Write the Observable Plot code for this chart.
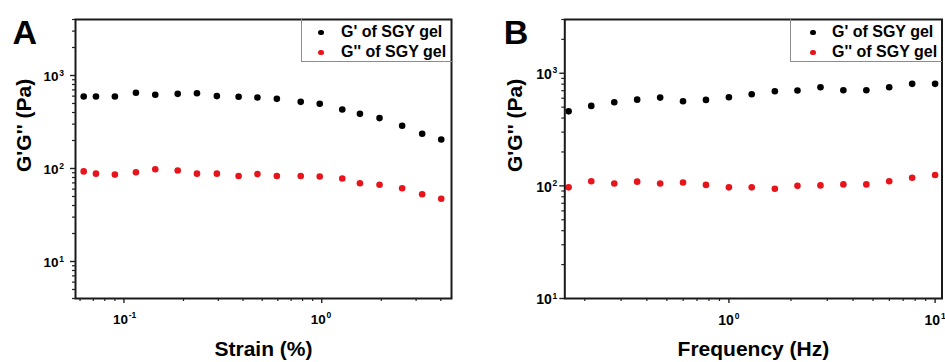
<!DOCTYPE html>
<html>
<head>
<meta charset="utf-8">
<script src="https://cdn.jsdelivr.net/npm/d3@7"></script>
<script src="https://cdn.jsdelivr.net/npm/@observablehq/plot@0.6"></script>
<style>
  body { margin: 0; background: #fff; }
  #wrap { position: relative; width: 945px; height: 362px; overflow: hidden; background: #fff;
          font-family: "Liberation Sans", Arial, sans-serif; }
  .panel { position: absolute; top: 0; }
  .legend { position: absolute; box-sizing: border-box; border-left: 1px solid #8c8c8c; border-bottom: 1px solid #8c8c8c; }
  .ldot { position: absolute; border-radius: 50%; }
  .ltext { position: absolute; font-weight: bold; font-size: 16px; line-height: 16px; white-space: nowrap; color: #000; }
</style>
</head>
<body>
<div id="wrap"></div>
<script>
// ---------- Data ----------
// Panel A: strain sweep
const strain = [0.0626, 0.0722, 0.090, 0.115, 0.144, 0.187, 0.234, 0.295, 0.380, 0.473, 0.593, 0.783, 0.977, 1.27, 1.56, 1.96, 2.55, 3.22, 4.02];
const gPrimeStrain = [594, 594, 594, 652, 620, 635, 645, 600, 590, 580, 561, 521, 496, 431, 387, 348, 288, 236, 205];
const gDoublePrimeStrain = [93, 88, 86, 91, 98, 95, 88, 88, 83, 87, 83, 83, 82, 78, 69.5, 66.8, 61.4, 52.9, 47.2];

// Panel B: frequency sweep
const frequency = [0.167, 0.215, 0.278, 0.359, 0.464, 0.599, 0.774, 1.0, 1.29, 1.67, 2.15, 2.78, 3.59, 4.64, 5.99, 7.74, 10.0];
const gPrimeFreq = [459, 513, 553, 583, 608, 564, 580, 612, 651, 692, 702, 751, 706, 706, 751, 805, 805];
const gDoublePrimeFreq = [97, 110, 105, 109, 105, 107, 102, 97, 97, 94.4, 100, 101, 103, 103, 110, 118, 125];

// Series names and colours
const seriesNames = ["G' of SGY gel", "G'' of SGY gel"];
const seriesColors = ["#000000", "#e8141b"];

// Axis ticks
const strainMajor = [0.1, 1];
const strainMinor = [0.06, 0.07, 0.08, 0.09, 0.2, 0.3, 0.4, 0.5, 0.6, 0.7, 0.8, 0.9, 2, 3, 4];
const freqMajor = [1, 10];
const freqMinor = [0.2, 0.3, 0.4, 0.5, 0.6, 0.7, 0.8, 0.9, 2, 3, 4, 5, 6, 7, 8, 9];
const modMajor = [10, 100, 1000];
const modMinorA = [4, 5, 6, 7, 8, 9, 20, 30, 40, 50, 60, 70, 80, 90, 200, 300, 400, 500, 600, 700, 800, 900, 2000, 3000, 4000];
const modMinorB = [20, 30, 40, 50, 60, 70, 80, 90, 200, 300, 400, 500, 600, 700, 800, 900, 2000, 3000];

const FONT = '"Liberation Sans", Arial, Helvetica, sans-serif';

function expLabel(v) {
  const e = Math.round(Math.log10(v));
  return e < 0 ? "-" + (-e) : String(e);
}

function panel(cfg) {
  const rows = cfg.x.map((x, i) => ({x, g1: cfg.g1[i], g2: cfg.g2[i]}));
  const bold = {fontWeight: "bold", fill: "#000"};
  return Plot.plot({
    width: cfg.width, height: 362,
    marginLeft: cfg.ml, marginRight: cfg.mr, marginTop: 19, marginBottom: 64,
    style: {fontFamily: FONT, background: "transparent", overflow: "visible"},
    x: {type: "log", domain: cfg.xDomain},
    y: {type: "log", domain: cfg.yDomain},
    marks: [
      // ticks (outward)
      Plot.axisX({ticks: cfg.xMinor, tickSize: 3, tickFormat: () => "", label: null, stroke: "#222", strokeWidth: 1.2}),
      Plot.axisX({ticks: cfg.xMajor, tickSize: 5, tickFormat: () => "", label: null, stroke: "#222", strokeWidth: 1.4}),
      Plot.axisY({ticks: cfg.yMinor, tickSize: 3, tickFormat: () => "", label: null, stroke: "#222", strokeWidth: 1.2}),
      Plot.axisY({ticks: cfg.yMajor, tickSize: 5, tickFormat: () => "", label: null, stroke: "#222", strokeWidth: 1.4}),
      // tick labels 10^k
      Plot.text(cfg.xMajor, {x: d => d, frameAnchor: "bottom", text: () => "10", textAnchor: "end", lineAnchor: "top",
        dx: cfg.xlDx, dy: cfg.xlDy, fontSize: cfg.tickFont, ...bold}),
      Plot.text(cfg.xMajor, {x: d => d, frameAnchor: "bottom", text: expLabel, textAnchor: "start", lineAnchor: "top",
        dx: cfg.xlDx + 0.8, dy: cfg.xlDy - 2.5, fontSize: 8.5, ...bold}),
      Plot.text(cfg.yMajor, {y: d => d, frameAnchor: "left", text: () => "10", textAnchor: "end", lineAnchor: "middle",
        dx: cfg.ylDx, dy: 1.5, fontSize: cfg.tickFont, ...bold}),
      Plot.text(cfg.yMajor, {y: d => d, frameAnchor: "left", text: expLabel, textAnchor: "start", lineAnchor: "middle",
        dx: cfg.ylDx + 0.8, dy: -2.5, fontSize: 8.5, ...bold}),
      // axis titles
      Plot.text([cfg.xLabel], {frameAnchor: "bottom", text: d => d, lineAnchor: "middle", dy: 51, fontSize: 21, ...bold}),
      Plot.text([cfg.yLabel], {frameAnchor: "left", text: d => d, rotate: -90, lineAnchor: "middle", dx: cfg.yTitleDx, dy: 13, fontSize: 21, ...bold}),
      // panel letter
      Plot.text([cfg.letter], {frameAnchor: "top-left", text: d => d, textAnchor: "start", lineAnchor: "top", dx: cfg.letterDx, dy: 0, fontSize: 34, ...bold}),
      // data
      Plot.dot(rows, {x: "x", y: "g1", r: 3.3, fill: seriesColors[0], stroke: null}),
      Plot.dot(rows, {x: "x", y: "g2", r: 3.3, fill: seriesColors[1], stroke: null}),
      Plot.frame({stroke: "#1a1a1a", strokeWidth: 2})
    ]
  });
}

const wrap = document.getElementById("wrap");

function addPanel(cfg, left) {
  const svg = panel(cfg);
  svg.classList.add("panel");
  svg.style.left = left + "px";
  wrap.appendChild(svg);
  // legend
  const lg = document.createElement("div");
  lg.className = "legend";
  Object.assign(lg.style, {left: cfg.legend.left + "px", top: "19px", width: cfg.legend.width + "px", height: "43px"});
  seriesNames.forEach((name, i) => {
    const d = document.createElement("div");
    d.className = "ldot";
    const r = 2.8;
    Object.assign(d.style, {left: (cfg.legend.dotX - r) + "px", top: (13.7 + 20 * i - r) + "px",
      width: 2 * r + "px", height: 2 * r + "px", background: seriesColors[i]});
    lg.appendChild(d);
    const t = document.createElement("div");
    t.className = "ltext";
    t.textContent = name;
    Object.assign(t.style, {left: cfg.legend.textX + "px", top: (5 + 20 * i) + "px"});
    lg.appendChild(t);
  });
  wrap.appendChild(lg);
}

addPanel({
  width: 470, ml: 75, mr: 19,
  x: strain, g1: gPrimeStrain, g2: gDoublePrimeStrain,
  xDomain: [0.0569, 4.53], yDomain: [4, 4000],
  xMajor: strainMajor, xMinor: strainMinor, yMajor: modMajor, yMinor: modMinorA,
  tickFont: 13.5, xlDx: 4, xlDy: 16, ylDx: -17,
  xLabel: "Strain (%)", yLabel: "G'G'' (Pa)", yTitleDx: -51,
  letter: "A", letterDx: -63,
  legend: {left: 301, width: 151, dotX: 19, textX: 39}
}, 0);

addPanel({
  width: 475, ml: 94.3, mr: 3.5,
  x: frequency, g1: gPrimeFreq, g2: gDoublePrimeFreq,
  xDomain: [0.16, 10.8], yDomain: [10, 3000],
  xMajor: freqMajor, xMinor: freqMinor, yMajor: modMajor, yMinor: modMinorB,
  tickFont: 14, xlDx: 5, xlDy: 17, ylDx: -13,
  xLabel: "Frequency (Hz)", yLabel: "G'G'' (Pa)", yTitleDx: -50,
  letter: "B", letterDx: -61,
  legend: {left: 790, width: 152, dotX: 22, textX: 41}
}, 470);
</script>
</body>
</html>
